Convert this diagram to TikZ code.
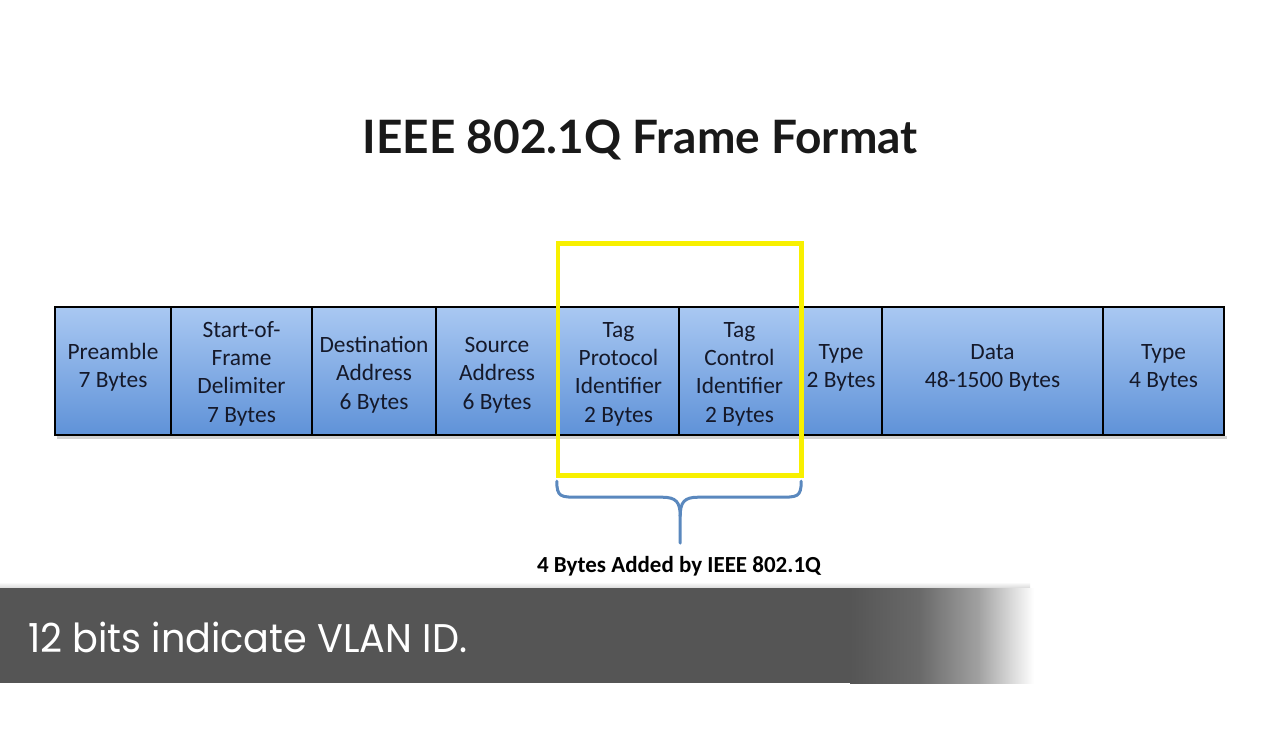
\documentclass[tikz,border=0pt]{standalone}
\usepackage{fontspec}
\setmainfont{Carlito}
\newfontfamily\titlefont{Lato}
\newfontfamily\barfont{Poppins}
\usetikzlibrary{calc}
\definecolor{fieldtop}{HTML}{A9C8F2}
\definecolor{fieldbot}{HTML}{5F92D8}
\definecolor{fieldtext}{HTML}{15192A}
\definecolor{hiyellow}{HTML}{F8F000}
\definecolor{bracecol}{HTML}{5A88BE}
\definecolor{bargray}{HTML}{555555}
\definecolor{barmidA}{HTML}{6A6A6A}
\definecolor{barmidB}{HTML}{A4A4A4}
\newcommand{\twoline}[2]{\raisebox{1.5pt}[\height][\depth]{\begin{tabular}{@{}c@{}}#1\\#2\end{tabular}}}
\newcommand{\multiline}[2][-1.5pt]{\raisebox{#1}[\height][\depth]{\begin{tabular}{@{}c@{}}#2\end{tabular}}}
\begin{document}
\begin{tikzpicture}[x=0.5pt,y=-0.5pt,
  field/.style={draw=black, line width=1.2pt, top color=fieldtop, bottom color=fieldbot,
    minimum height=64pt, inner sep=0pt, align=center, text=fieldtext,
    font=\fontsize{11.7}{14.2}\selectfont},
  hilite/.style={draw=hiyellow, line width=2.35pt},
  bracestyle/.style={draw=bracecol, line width=1.5pt, line cap=round},
]
\useasboundingbox (0,0) rectangle (1280,738);
\fill[white] (0,0) rectangle (1280,738);

% title
\node[font=\titlefont\bfseries\fontsize{23}{27}\selectfont, text=black!90] (title) at (640,140) {IEEE 802.1Q Frame Format};

% shadow under frame
\fill[black!18] (57,436) rectangle (1227,439);

% fields
\node[field, minimum width=58pt] (pre) at (113,371) {\twoline{Preamble}{7 Bytes}};
\node[field, minimum width=70.5pt] (sof) at (241.5,371) {\multiline{Start-of-\\Frame\\Delimiter\\7 Bytes}};
\node[field, minimum width=62pt] (dst) at (374,371) {\multiline[-2pt]{Destination\\Address\\6 Bytes}};
\node[field, minimum width=61pt] (src) at (497,371) {\multiline[-2pt]{Source\\Address\\6 Bytes}};
\node[field, minimum width=60.5pt] (tpid) at (618.5,371) {\multiline{Tag\\Protocol\\Identifier\\2 Bytes}};
\node[field, minimum width=60.5pt] (tci) at (739.5,371) {\multiline{Tag\\Control\\Identifier\\2 Bytes}};
\node[field, minimum width=41pt] (type) at (841,371) {\twoline{Type}{2 Bytes}};
\node[field, minimum width=110.5pt] (data) at (992.5,371) {\twoline{Data}{48-1500 Bytes}};
\node[field, minimum width=60.5pt] (fcs) at (1163.5,371) {\twoline{Type}{4 Bytes}};

% brace
\coordinate (bl) at (tpid.south west);
\coordinate (br) at (tci.south east);
\coordinate (bm) at (tpid.south east);
\draw[bracestyle] ($(bl)+(0,45)$) .. controls ($(bl)+(0,61)$) and ($(bl)+(4,61)$) .. ($(bl)+(22,61)$)
  -- ($(bm)+(-18,61)$) .. controls ($(bm)+(-4,61)$) and ($(bm)+(0,66)$) .. ($(bm)+(0,80)$)
  -- ($(bm)+(0,107)$);
\draw[bracestyle] ($(br)+(0,45)$) .. controls ($(br)+(0,61)$) and ($(br)+(-4,61)$) .. ($(br)+(-22,61)$)
  -- ($(bm)+(18,61)$) .. controls ($(bm)+(4,61)$) and ($(bm)+(0,66)$) .. ($(bm)+(0,80)$);

\node[font=\bfseries\fontsize{11.5}{14}\selectfont, text=black] (lbl) at (679,566) {4 Bytes Added by IEEE 802.1Q};

% highlight box
\draw[hilite] (558,243.5) rectangle (801.5,475.5);

% bottom bar
\shade[top color=white, bottom color=black!15] (0,582) rectangle (1030,588);
\fill[bargray] (0,588) rectangle (852,683);
\shade[left color=bargray, right color=barmidA] (850,588) rectangle (922,683);
\shade[left color=barmidA, right color=barmidB] (920,588) rectangle (982,683);
\shade[left color=barmidB, right color=white] (980,588) rectangle (1034,683);
\node[font=\barfont\fontsize{20}{24}\selectfont, text=white, anchor=base west] (bar) at (21,652) {\scalebox{0.955}[1]{12 bits indicate VLAN ID.}};
\end{tikzpicture}
\end{document}
